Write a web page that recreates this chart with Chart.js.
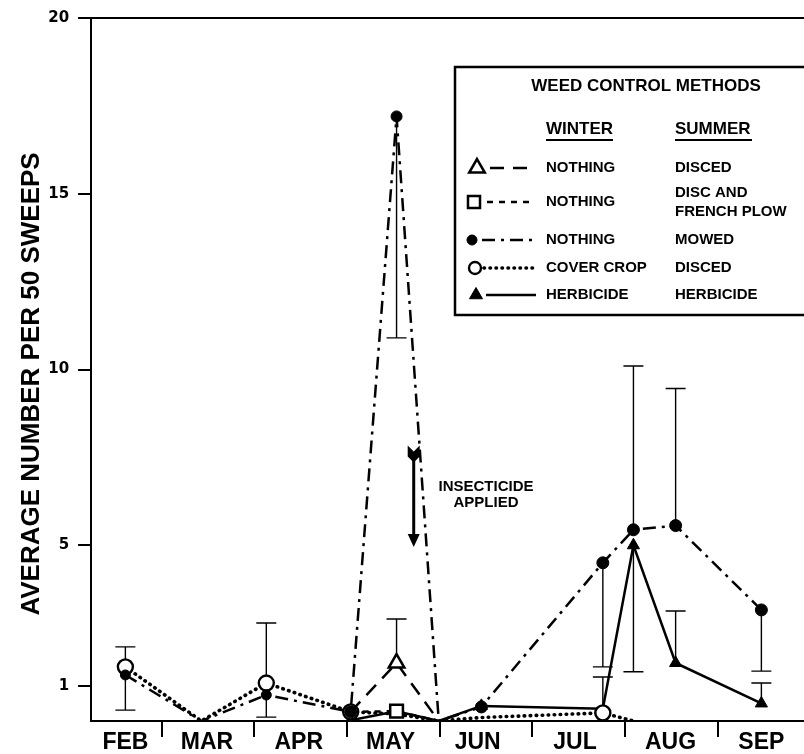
<!DOCTYPE html>
<html>
<head>
<meta charset="utf-8">
<script src="https://cdn.jsdelivr.net/npm/chart.js@4.4.0/dist/chart.umd.min.js"></script>
<style>
  html, body { margin: 0; padding: 0; background: #fff; overflow: hidden; }
  #wrap { position: relative; width: 804px; height: 754px; overflow: hidden; }
</style>
</head>
<body>
<div id="wrap"><canvas id="chart" width="813" height="754"></canvas></div>
<script>
// sampling dates, in months (3 = 1 March, 4 = 1 April ...)
const sampleX = [2.61, 3.43, 4.13, 5.04, 5.535, 5.99, 6.45, 7.76, 8.09, 8.545, 9.47];

// month names and where they sit on the axis
const months = ['FEB', 'MAR', 'APR', 'MAY', 'JUN', 'JUL', 'AUG', 'SEP'];
const monthLabelX = [2.61, 3.49, 4.48, 5.47, 6.41, 7.46, 8.49, 9.47];
const monthStarts = [3, 4, 5, 6, 7, 8, 9];
const yTicks = [1, 5, 10, 15, 20];

// average number per 50 sweeps
const discedVals = [null, null, null, 0.26, 1.65, 0, null, null, null, null, null];
const plowVals = [null, null, null, 0.26, 0.28, 0, null, null, null, null, null];
const mowedVals = [1.31, 0, 0.74, 0.26, 17.2, 0, 0.4, 4.5, 5.44, 5.56, 3.16];
const coverVals = [1.54, 0, 1.08, 0.26, 0.2, 0, 0.1, 0.23, 0, null, null];
const herbVals = [null, null, null, 0.02, 0.28, 0, 0.43, 0.35, 5.0, 1.65, 0.5];

// error bars [low, high]
const discedErr = [null, null, null, null, [1.65, 2.9], null, null, null, null, null, null];
const mowedErr = [null, null, null, null, [10.9, 17.2], null, null, [1.54, 4.5], [5.44, 10.1], [5.56, 9.46], [1.42, 3.16]];
const coverErr = [[0.31, 2.11], null, [0.11, 2.79], null, null, null, null, [0.23, 1.25], null, null, null];
const herbErr = [null, null, null, null, null, null, null, null, [1.4, 5.0], [1.65, 3.13], [0.5, 1.08]];

// insecticide arrow: x, from, to
const arrowX = 5.72;
const arrowFrom = 7.75;
const arrowTo = 4.95;
const noteX = 6.5;
const noteY = [6.65, 6.2];

function pts(vals) {
    return sampleX.map((x, i) => ({ x: x, y: vals[i] }));
}

const FONT = '"Liberation Sans", Arial, Helvetica, sans-serif';
const NARROW = '"Liberation Sans Narrow", "Arial Narrow", "Liberation Sans", sans-serif';

const series = [
    { label: 'disced', data: pts(discedVals), err: discedErr, borderDash: [14, 9], pointStyle: 'triangle',
      pointRadius: [0, 0, 0, 0, 9, 0, 0, 0, 0, 0, 0], pointBackgroundColor: '#fff', pointBorderWidth: 2.5, borderWidth: 2.5 },
    { label: 'plow', data: pts(plowVals), err: null, borderDash: [6, 6], pointStyle: 'rect',
      pointRadius: [0, 0, 0, 0, 9, 0, 0, 0, 0, 0, 0], pointBackgroundColor: '#fff', pointBorderWidth: 2.5, borderWidth: 2.5 },
    { label: 'mowed', data: pts(mowedVals), err: mowedErr, borderDash: [13, 6, 3, 6], pointStyle: 'circle',
      pointRadius: [5, 0, 5, 6, 5.5, 0, 6, 6, 6, 6, 6], pointBackgroundColor: '#000', pointBorderWidth: 1, borderWidth: 2.5 },
    { label: 'cover', data: pts(coverVals), err: coverErr, borderDash: [0.5, 5.5], pointStyle: 'circle',
      pointRadius: [7.5, 0, 7.5, 7.5, 0, 0, 0, 7.5, 0, 0, 0], pointBackgroundColor: '#fff', pointBorderWidth: 2.4, borderWidth: 3.6, borderCapStyle: 'round' },
    { label: 'herbicide', data: pts(herbVals), err: herbErr, borderDash: [], pointStyle: 'triangle',
      pointRadius: [7, 7, 7, 7, 7, 0, 7, 0, 7, 7, 7], pointBackgroundColor: '#000', pointBorderWidth: 1, borderWidth: 2.5 }
];

const datasets = series.map(s => Object.assign({
    borderColor: '#000',
    pointBorderColor: '#000',
    fill: false,
    tension: 0,
    spanGaps: false
}, s));

// error bars, drawn under the markers
const errorBars = {
    id: 'errorBars',
    beforeDatasetsDraw(chart) {
        const ctx = chart.ctx;
        const xs = chart.scales.x, ys = chart.scales.y;
        ctx.save();
        ctx.strokeStyle = '#000';
        ctx.lineWidth = 1.4;
        chart.data.datasets.forEach(ds => {
            if (!ds.err) return;
            ds.err.forEach((e, i) => {
                if (!e) return;
                const x = xs.getPixelForValue(sampleX[i]);
                const v = ds.data[i].y;
                const y1 = ys.getPixelForValue(e[0]);
                const y2 = ys.getPixelForValue(e[1]);
                ctx.beginPath();
                ctx.moveTo(x, y1);
                ctx.lineTo(x, y2);
                if (e[0] !== v) { ctx.moveTo(x - 10, y1); ctx.lineTo(x + 10, y1); }
                if (e[1] !== v) { ctx.moveTo(x - 10, y2); ctx.lineTo(x + 10, y2); }
                ctx.stroke();
            });
        });
        ctx.restore();
    }
};

// legend box, arrow and note
const extras = {
    id: 'extras',
    afterDraw(chart) {
        const ctx = chart.ctx;
        const xs = chart.scales.x, ys = chart.scales.y;
        ctx.save();

        // insecticide arrow
        const ax = xs.getPixelForValue(arrowX);
        const ay0 = ys.getPixelForValue(arrowFrom);
        const ay1 = ys.getPixelForValue(arrowTo);
        ctx.fillStyle = '#000';
        ctx.strokeStyle = '#000';
        ctx.lineWidth = 3;
        ctx.beginPath();
        ctx.moveTo(ax, ay0 + 6);
        ctx.lineTo(ax, ay1 - 10);
        ctx.stroke();
        ctx.beginPath();
        ctx.moveTo(ax - 6, ay0 - 3);
        ctx.lineTo(ax, ay0 + 3);
        ctx.lineTo(ax + 6, ay0 - 3);
        ctx.lineTo(ax + 6, ay0 + 8);
        ctx.lineTo(ax, ay0 + 14);
        ctx.lineTo(ax - 6, ay0 + 8);
        ctx.closePath();
        ctx.fill();
        ctx.beginPath();
        ctx.moveTo(ax - 6, ay1 - 13);
        ctx.lineTo(ax + 6, ay1 - 13);
        ctx.lineTo(ax, ay1);
        ctx.closePath();
        ctx.fill();

        ctx.font = 'bold 15px ' + FONT;
        ctx.textAlign = 'center';
        ctx.textBaseline = 'middle';
        ctx.fillText('INSECTICIDE', xs.getPixelForValue(noteX), ys.getPixelForValue(noteY[0]));
        ctx.fillText('APPLIED', xs.getPixelForValue(noteX), ys.getPixelForValue(noteY[1]));

        // legend
        ctx.lineWidth = 2.5;
        ctx.fillStyle = '#fff';
        ctx.fillRect(455, 67, 360, 248);
        ctx.strokeRect(455, 67, 360, 248);
        ctx.fillStyle = '#000';
        ctx.font = 'bold 17px ' + FONT;
        ctx.fillText('WEED CONTROL METHODS', 646, 86);
        ctx.textAlign = 'left';
        ctx.fillText('WINTER', 546, 129);
        ctx.fillText('SUMMER', 675, 129);
        ctx.lineWidth = 2;
        ctx.beginPath();
        ctx.moveTo(546, 140); ctx.lineTo(613, 140);
        ctx.moveTo(675, 140); ctx.lineTo(752, 140);
        ctx.stroke();

        const rows = [
            { ds: 0, y: 168, x0: 490, x1: 532, mx: 477, r: 9, winter: 'NOTHING', summer: ['DISCED'] },
            { ds: 1, y: 202, x0: 487, x1: 532, mx: 474, r: 8.5, winter: 'NOTHING', summer: ['DISC AND', 'FRENCH PLOW'] },
            { ds: 2, y: 240, x0: 482, x1: 538, mx: 472, r: 5, winter: 'NOTHING', summer: ['MOWED'] },
            { ds: 3, y: 268, x0: 484, x1: 536, mx: 475, r: 6, winter: 'COVER CROP', summer: ['DISCED'] },
            { ds: 4, y: 295, x0: 486, x1: 536, mx: 476, r: 7.5, winter: 'HERBICIDE', summer: ['HERBICIDE'] }
        ];
        ctx.font = 'bold 15px ' + FONT;
        rows.forEach(row => {
            const ds = chart.data.datasets[row.ds];
            ctx.save();
            ctx.strokeStyle = '#000';
            ctx.lineWidth = ds.borderWidth;
            ctx.lineCap = ds.borderCapStyle || 'butt';
            ctx.setLineDash(ds.borderDash);
            ctx.beginPath();
            ctx.moveTo(row.x0, row.y);
            ctx.lineTo(row.x1, row.y);
            ctx.stroke();
            ctx.restore();
            ctx.fillStyle = ds.pointBackgroundColor === '#000' ? '#000' : '#fff';
            ctx.strokeStyle = '#000';
            ctx.lineWidth = ds.pointBorderWidth;
            Chart.helpers.drawPoint(ctx, { pointStyle: ds.pointStyle, radius: row.r, borderWidth: ds.pointBorderWidth, rotation: 0 }, row.mx, row.y);
            ctx.fillStyle = '#000';
            ctx.fillText(row.winter, 546, row.y);
            if (row.summer.length === 1) {
                ctx.fillText(row.summer[0], 675, row.y);
            } else {
                ctx.fillText(row.summer[0], 675, row.y - 9);
                ctx.fillText(row.summer[1], 675, row.y + 10);
            }
        });
        ctx.restore();
    }
};

const ctx = document.getElementById('chart').getContext('2d');
new Chart(ctx, {
    type: 'line',
    data: { datasets: datasets },
    options: {
        responsive: false,
        animation: false,
        devicePixelRatio: 1,
        layout: { padding: { left: 12, right: 0, top: 7, bottom: 0 } },
        plugins: { legend: { display: false }, tooltip: { enabled: false } },
        scales: {
            x: {
                type: 'linear',
                position: 'bottom',
                min: 2.24,
                max: 9.92,
                border: { color: '#000', width: 2 },
                grid: {
                    drawOnChartArea: false,
                    tickLength: 16,
                    lineWidth: 2,
                    color: c => (c.tick && monthStarts.includes(c.tick.value)) ? '#000' : 'rgba(0,0,0,0)'
                },
                afterBuildTicks: axis => {
                    axis.ticks = monthStarts.concat(monthLabelX).sort((a, b) => a - b).map(v => ({ value: v }));
                },
                afterFit: axis => { axis.height = 33; },
                ticks: {
                    autoSkip: false,
                    maxRotation: 0,
                    padding: 0,
                    color: '#000',
                    font: { family: NARROW, size: 23, weight: 'bold', lineHeight: 0.5 },
                    callback: v => {
                        const i = monthLabelX.indexOf(v);
                        return i >= 0 ? months[i] : '';
                    }
                }
            },
            xTop: {
                type: 'linear',
                position: 'top',
                min: 2.24,
                max: 9.92,
                border: { color: '#000', width: 2 },
                grid: { display: false },
                ticks: { display: false }
            },
            y: {
                min: 0,
                max: 20,
                border: { color: '#000', width: 2 },
                grid: { drawOnChartArea: false, tickLength: 13, lineWidth: 2, color: '#000' },
                afterBuildTicks: axis => {
                    axis.ticks = yTicks.map(v => ({ value: v }));
                },
                ticks: {
                    padding: 9,
                    color: '#000',
                    font: { family: '"DejaVu Sans", sans-serif', size: 15, weight: 'bold' }
                },
                title: {
                    display: true,
                    text: 'AVERAGE NUMBER PER 50 SWEEPS    ',
                    color: '#000',
                    font: { family: FONT, size: 26, weight: 'bold' },
                    padding: { top: 4, bottom: -8 }
                }
            }
        }
    },
    plugins: [errorBars, extras]
});
</script>
</body>
</html>
